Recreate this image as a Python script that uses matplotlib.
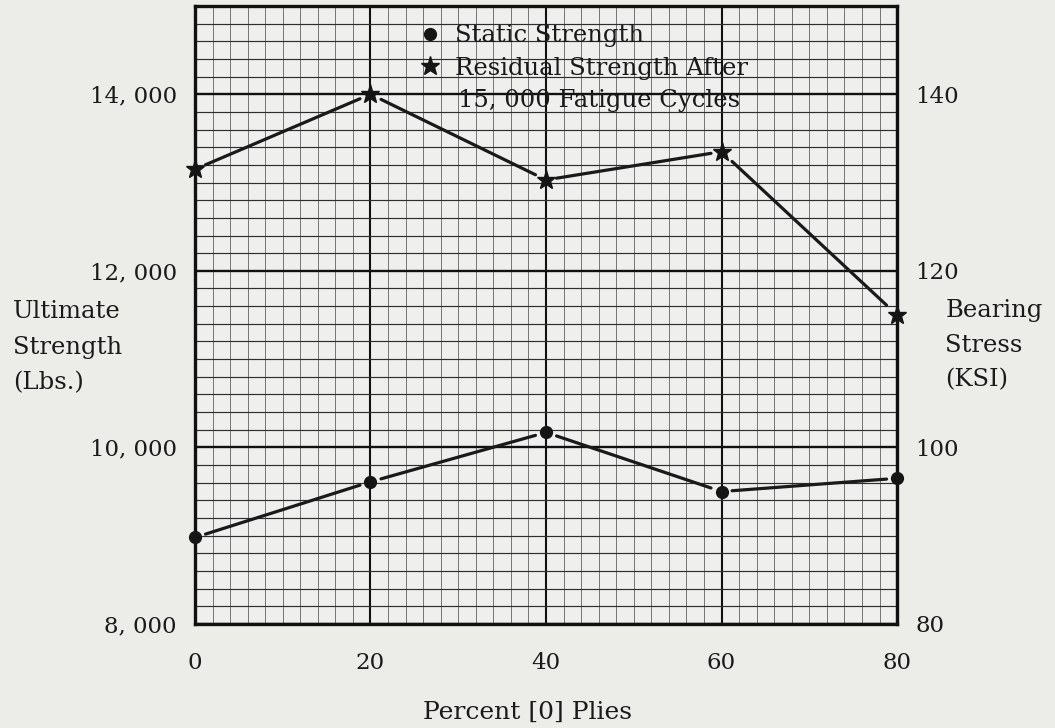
import matplotlib.pyplot as plt
from matplotlib.lines import Line2D

# valores
plies = [0, 20, 40, 60, 80]
static_strength = [8980, 9610, 10170, 9500, 9650]
residual_strength = [13150, 14000, 13030, 13350, 11500]

left_ticks = [8000, 10000, 12000, 14000]
left_labels = ['8, 000', '10, 000', '12, 000', '14, 000']
right_ticks = [80, 100, 120, 140]
x_ticks = [0, 20, 40, 60, 80]

paper = '#ecece9'
ink = '#1a1a1a'
plt.rcParams['font.family'] = ['DejaVu Serif']

fig = plt.figure(figsize=(10.55, 7.28), dpi=100, facecolor=paper)
ax = fig.add_axes([0.1848, 0.1429, 0.6655, 0.8489])
ax.set_facecolor('#efefed')

ax.set_xlim(0, 80)
ax.set_ylim(8000, 15000)
ax.set_xticks(x_ticks)
ax.set_xticks(range(0, 81, 2), minor=True)
ax.set_yticks(left_ticks)
ax.set_yticklabels(left_labels)
ax.set_yticks(range(8000, 15001, 200), minor=True)
ax.tick_params(which='both', length=0)
ax.tick_params(axis='x', pad=20, labelsize=16.5, labelcolor=ink)
ax.tick_params(axis='y', pad=13, labelsize=16.5, labelcolor=ink)

# papel milimetrado
ax.xaxis.grid(True, which='minor', color='#555555', lw=0.55)
ax.yaxis.grid(True, which='minor', color='#2e2e2e', lw=0.85)
ax.xaxis.grid(True, which='major', color='#111111', lw=1.5)
ax.yaxis.grid(True, which='major', color='#111111', lw=1.7)
ax.set_axisbelow(True)
for s in ax.spines.values():
    s.set_linewidth(2.4)
    s.set_color('#111111')


def gap_line(xs, ys, frac=0.06):
    # linha com pequeno espaço antes de cada marcador
    for i in range(len(xs) - 1):
        dx = xs[i + 1] - xs[i]
        dy = ys[i + 1] - ys[i]
        ax.plot([xs[i] + frac * dx, xs[i + 1] - frac * dx],
                [ys[i] + frac * dy, ys[i + 1] - frac * dy],
                color='#1a1a1a', lw=2.3, solid_capstyle='round', zorder=3,
                clip_on=False)


gap_line(plies, static_strength)
gap_line(plies, residual_strength)
ax.plot(plies, static_strength, 'o', color='#151515', ms=8.5, zorder=4, clip_on=False)
ax.plot(plies, residual_strength, '*', color='#151515', ms=14, zorder=4, clip_on=False)

ax2 = ax.twinx()
ax2.set_ylim(80, 150)
ax2.set_yticks(right_ticks)
ax2.tick_params(length=0, pad=13, labelsize=16.5, labelcolor=ink)
for s in ax2.spines.values():
    s.set_visible(False)

handles = [
    Line2D([], [], marker='o', ls='none', color='#151515', ms=8.5),
    Line2D([], [], marker='*', ls='none', color='#151515', ms=14),
]
leg = fig.legend(handles, ['Static Strength', 'Residual Strength After'],
                 loc='upper left', bbox_to_anchor=(0.378, 0.997), frameon=False,
                 fontsize=17.5, handlelength=0.8, handletextpad=0.6, labelspacing=0.4,
                 labelcolor=ink)
# segunda linha da legenda
fig.text(0.434, 0.862, '15, 000 Fatigue Cycles', fontsize=17.5, color=ink,
         va='center', ha='left', zorder=6)

fig.text(0.012, 0.523, 'Ultimate\nStrength\n(Lbs.)', fontsize=17.5, color=ink,
         va='center', ha='left', linespacing=1.7)
fig.text(0.896, 0.526, 'Bearing\nStress\n(KSI)', fontsize=17.5, color=ink,
         va='center', ha='left', linespacing=1.65)
fig.text(0.5, 0.022, 'Percent [0] Plies', fontsize=18, color=ink,
         va='center', ha='center')

fig.savefig('out.png', dpi=100, facecolor=paper)
